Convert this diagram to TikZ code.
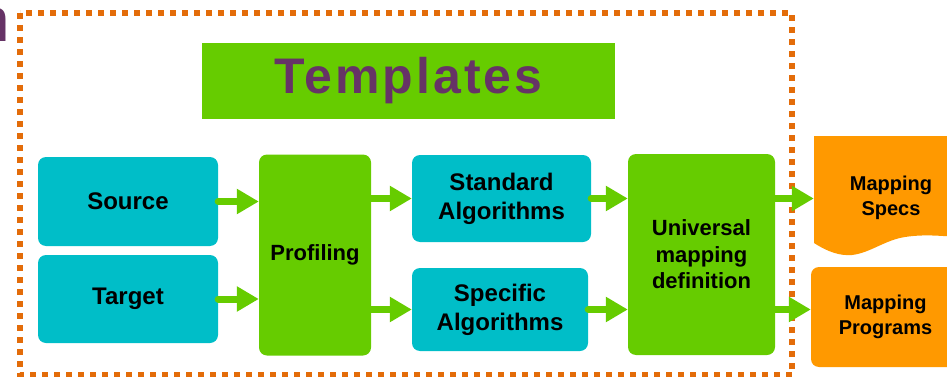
\documentclass[tikz,border=0pt]{standalone}
\usepackage{fontspec}
\setmainfont{Liberation Sans}
\newfontfamily\titlefont[LetterSpace=6]{Liberation Sans}
\usetikzlibrary{arrows.meta}

\definecolor{boxteal}{RGB}{0,190,200}
\definecolor{boxgreen}{RGB}{102,204,0}
\definecolor{boxorange}{RGB}{255,153,0}
\definecolor{dotorange}{RGB}{227,108,9}
\definecolor{titlepurple}{RGB}{102,51,102}

\begin{document}
\begin{tikzpicture}[x=1pt,y=-1pt,
  blockbox/.style={rounded corners=8pt, inner sep=0pt, align=center},
  tealbox/.style={blockbox, fill=boxteal, font=\bfseries\fontsize{24}{29}\selectfont},
  greenbox/.style={blockbox, fill=boxgreen, minimum height=201pt, font=\bfseries\fontsize{22}{26.5}\selectfont},
  orangebox/.style={blockbox, font=\bfseries\fontsize{20}{25}\selectfont},
  flow/.style={draw=boxgreen, line width=7pt, line cap=round, -{Triangle[length=22pt,width=24pt]}}]

  %% page frame
  \path[use as bounding box] (0,0) rectangle (947,377);
  \clip (0,0) rectangle (947,377);

  %% cut-off heading and dotted frame
  \node[anchor=base east, inner sep=0pt, text=titlepurple, font=\fontsize{62}{70}\selectfont] (heading) at (10,42) {n};
  \draw[dotorange, line width=6pt, dash pattern=on 6pt off 6pt] (20,13) rectangle (792,375);

  %% title
  \node[fill=boxgreen, minimum width=413pt, minimum height=76pt, inner sep=0pt, text=titlepurple,
        font=\titlefont\bfseries\fontsize{50}{60}\selectfont] (templates) at (408.5,81) {Templates};

  %% inputs
  \node[tealbox, minimum width=180pt, minimum height=89pt] (src) at (128,201.5) {Source};
  \node[tealbox, minimum width=180pt, minimum height=88pt] (tgt) at (128,299) {Target};

  %% processing
  \node[greenbox, minimum width=112pt] (prof) at (315,255) {Profiling};
  \node[tealbox, minimum width=179pt, minimum height=87pt] (std) at (501.5,198.5) {Standard\\Algorithms};
  \node[tealbox, minimum width=176pt, minimum height=83pt] (spec) at (500,309.5) {Specific\\Algorithms};
  \node[greenbox, minimum width=147pt] (univ) at (701.5,254.5) {Universal\\mapping\\definition};

  %% outputs
  \fill[boxorange] (814,136) -- (960,136) -- (960,237)
    .. controls (940,236) and (925,234) .. (905,237)
    .. controls (885,240) and (870,253) .. (852,255)
    .. controls (840,256) and (828,252) .. (814,243) -- cycle;
  \node[orangebox, minimum width=154pt, minimum height=100pt] (specs) at (891,198) {Mapping\\Specs};
  \node[orangebox, fill=boxorange, minimum width=149pt, minimum height=100pt] (prog) at (885.5,317) {Mapping\\Programs};

  %% arrows
  \draw[flow] (src.east) -- (prof.west |- src.east);
  \draw[flow] (tgt.east) -- (prof.west |- tgt.east);
  \draw[flow] (prof.east |- std.west) -- (std.west);
  \draw[flow] (prof.east |- spec.west) -- (spec.west);
  \draw[flow] (std.east) -- (univ.west |- std.east);
  \draw[flow] (spec.east) -- (univ.west |- spec.east);
  \draw[flow] (univ.east |- std.east) -- (specs.west |- std.east);
  \draw[flow] (univ.east |- spec.east) -- (prog.west |- spec.east);
\end{tikzpicture}
\end{document}
